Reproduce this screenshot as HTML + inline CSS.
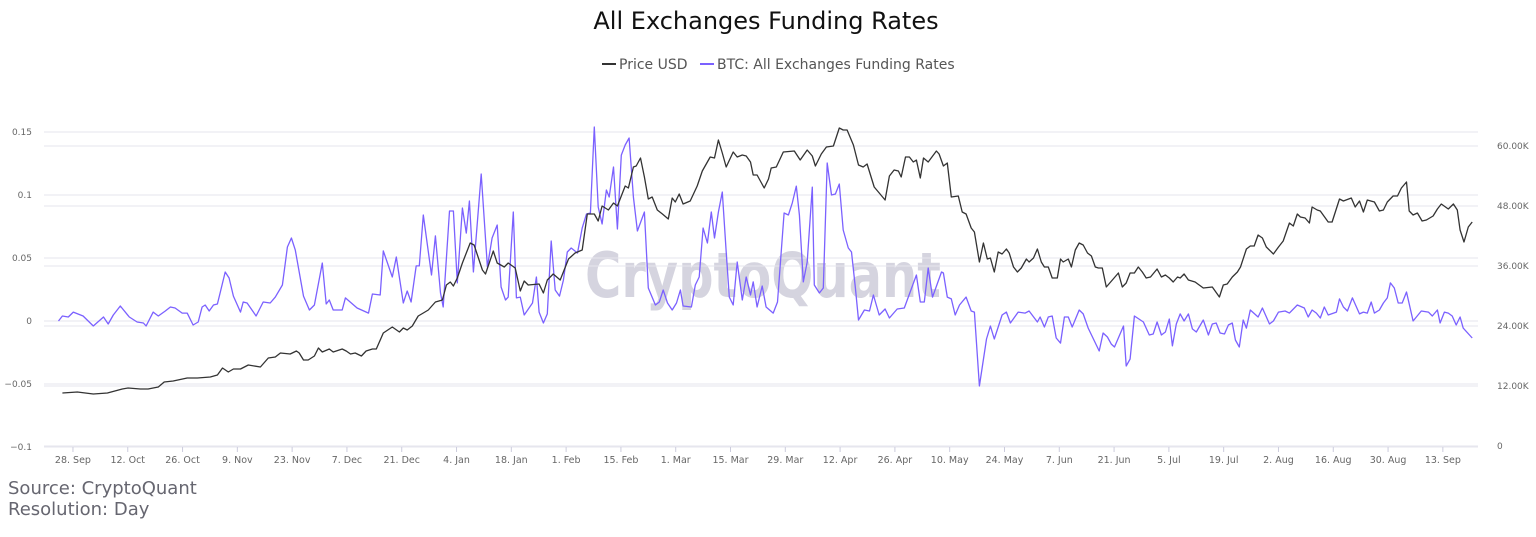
<!DOCTYPE html>
<html><head><meta charset="utf-8">
<style>
html,body{margin:0;padding:0;background:#fff;}
body{width:1536px;height:533px;overflow:hidden;font-family:"DejaVu Sans","Liberation Sans",sans-serif;}
svg text{font-family:"DejaVu Sans","Liberation Sans",sans-serif;}
</style></head>
<body>
<svg id="chart" width="1536" height="533" viewBox="0 0 1536 533" xmlns="http://www.w3.org/2000/svg">
<text x="766" y="29" text-anchor="middle" font-size="24" fill="#111">All Exchanges Funding Rates</text>
<g>
<g>
<line x1="602" y1="64" x2="616" y2="64" stroke="#333" stroke-width="2"/>
<text x="619" y="69" font-size="14" fill="#555">Price USD</text></g>
<g>
<line x1="700" y1="64" x2="714" y2="64" stroke="#7b61ff" stroke-width="2"/>
<text x="717" y="69" font-size="14" fill="#555">BTC: All Exchanges Funding Rates</text></g>
</g>
<text x="585" y="297" font-size="62" font-weight="bold" fill="#d5d4df" textLength="356" lengthAdjust="spacingAndGlyphs">CryptoQuant</text>
<g id="grid"></g>
<g id="axes"></g>
<g id="series"></g>
<text x="8" y="494" font-size="18" fill="#666670">Source: CryptoQuant</text>
<text x="8" y="515" font-size="18" fill="#666670">Resolution: Day</text>
</svg>
<script>
const leftTicks = [0.15, 0.1, 0.05, 0, -0.05, -0.1];
const leftTickLabels = ["0.15", "0.1", "0.05", "0", "\u22120.05", "\u22120.1"];
const rightTicks = [60, 48, 36, 24, 12, 0];
const rightTickLabels = ["60.00K", "48.00K", "36.00K", "24.00K", "12.00K", "0"];
const xTickDays = [4, 18, 32, 46, 60, 74, 88, 102, 116, 130, 144, 158, 172, 186, 200, 214, 228, 242, 256, 270, 284, 298, 312, 326, 340, 354];
const xTickLabels = ["28. Sep","12. Oct","26. Oct","9. Nov","23. Nov","7. Dec","21. Dec","4. Jan","18. Jan","1. Feb","15. Feb","1. Mar","15. Mar","29. Mar","12. Apr","26. Apr","10. May","24. May","7. Jun","21. Jun","5. Jul","19. Jul","2. Aug","16. Aug","30. Aug","13. Sep"];

const fundDays = [0.3,1.3,2.8,4.1,6.6,9.2,11.8,13.0,14.3,16.1,18.4,20.4,22.0,22.7,24.5,25.8,27.6,28.9,30.1,31.9,33.2,34.7,36.0,37.0,37.8,38.8,39.9,40.9,41.6,42.9,43.9,45.0,46.8,47.5,48.5,50.8,52.6,54.4,55.7,57.5,58.8,59.8,60.8,62.9,64.4,65.7,67.7,68.7,69.5,70.5,72.8,73.6,76.6,79.5,80.5,82.5,83.3,85.6,86.6,88.4,89.4,90.4,91.7,92.5,93.5,95.6,96.6,97.9,98.6,100.2,101.2,102.2,103.5,104.5,105.3,106.3,108.3,109.9,111.1,112.4,113.4,114.5,115.2,116.5,117.3,118.3,119.3,121.4,122.4,123.1,124.2,125.2,126.2,127.2,128.3,129.3,130.3,131.3,132.9,134.1,135.2,136.2,137.2,138.2,139.2,140.3,141.0,142.1,143.1,144.1,145.1,146.1,147.2,148.2,150.0,151.0,152.8,153.8,154.8,155.9,157.1,158.2,159.2,159.9,162.0,163.0,164.0,165.0,166.1,167.1,167.9,168.9,169.9,170.9,171.7,172.7,173.7,175.0,176.0,177.1,177.8,178.8,180.1,181.1,182.9,184.0,185.7,186.8,187.8,188.8,189.6,190.6,191.6,192.9,193.4,194.7,195.7,196.7,197.8,198.8,199.8,200.8,202.1,202.9,203.9,204.7,206.2,207.5,208.5,210.0,211.5,212.6,214.6,216.4,219.5,220.5,221.5,222.5,223.6,225.9,226.4,227.4,228.4,229.4,230.5,232.2,233.5,234.3,235.6,237.4,238.4,239.4,241.4,242.5,243.5,245.5,247.3,248.3,250.4,251.1,252.2,253.2,254.2,255.2,256.3,257.3,258.3,259.3,261.1,262.1,263.4,266.2,267.2,268.3,269.3,270.1,272.4,273.1,274.1,275.2,277.5,279.0,280.0,281.0,282.1,283.1,284.1,284.9,285.9,286.9,287.9,289.0,290.0,291.0,292.8,294.1,295.1,296.1,297.1,298.2,299.2,300.2,301.0,302.0,303.0,303.8,304.8,306.8,307.9,309.7,310.7,312.0,313.7,314.8,316.8,318.6,319.6,320.6,321.7,322.7,323.7,324.7,326.8,327.6,328.6,329.6,330.9,332.7,333.7,334.7,335.7,336.5,337.8,338.8,339.8,340.6,341.6,342.6,343.6,344.7,346.4,348.5,350.3,351.3,352.6,353.3,354.4,355.4,356.4,357.4,358.4,359.2,361.5];
const fundValues = [0,0.0040,0.0032,0.0071,0.0040,-0.0040,0.0032,-0.0024,0.0048,0.0119,0.0032,-0.0008,-0.0016,-0.0040,0.0071,0.0040,0.0079,0.0111,0.0103,0.0063,0.0063,-0.0032,-0.0008,0.0111,0.0127,0.0079,0.0127,0.0135,0.0222,0.0389,0.0341,0.0198,0.0071,0.0151,0.0143,0.0040,0.0151,0.0143,0.0190,0.0286,0.0587,0.0659,0.0563,0.0198,0.0087,0.0127,0.0460,0.0135,0.0167,0.0087,0.0087,0.0183,0.0103,0.0063,0.0214,0.0206,0.0556,0.0349,0.0508,0.0143,0.0238,0.0151,0.0437,0.0437,0.0841,0.0365,0.0675,0.0222,0.0111,0.0873,0.0873,0.0302,0.0897,0.0698,0.0952,0.0389,0.1167,0.0429,0.0659,0.0762,0.0270,0.0167,0.0190,0.0865,0.0183,0.0190,0.0048,0.0143,0.0349,0.0071,-0.0016,0.0056,0.0635,0.0246,0.0198,0.0325,0.0548,0.0579,0.0540,0.0738,0.0849,0.0857,0.1540,0.0905,0.0770,0.1040,0.0984,0.1222,0.0730,0.1317,0.1397,0.1452,0.0984,0.0714,0.0865,0.0262,0.0127,0.0151,0.0246,0.0143,0.0087,0.0143,0.0246,0.0119,0.0111,0.0286,0.0349,0.0738,0.0619,0.0865,0.0659,0.0865,0.1024,0.0548,0.0190,0.0127,0.0468,0.0167,0.0349,0.0206,0.0310,0.0111,0.0278,0.0111,0.0063,0.0151,0.0857,0.0841,0.0937,0.1071,0.0841,0.0310,0.0468,0.1063,0.0286,0.0222,0.0262,0.1254,0.1000,0.1008,0.1087,0.0722,0.0579,0.0548,0.0262,0.0008,0.0087,0.0079,0.0206,0.0048,0.0095,0.0024,0.0095,0.0103,0.0365,0.0151,0.0151,0.0421,0.0190,0.0389,0.0381,0.0190,0.0175,0.0048,0.0127,0.0190,0.0079,0.0071,-0.0516,-0.0143,-0.0040,-0.0143,0.0048,0.0071,-0.0016,0.0071,0.0063,0.0079,-0.0008,0.0032,-0.0048,0.0032,0.0040,-0.0135,-0.0175,0.0032,0.0032,-0.0048,0.0087,0.0056,-0.0056,-0.0238,-0.0095,-0.0127,-0.0183,-0.0206,-0.0040,-0.0357,-0.0302,0.0040,-0.0008,-0.0111,-0.0103,-0.0008,-0.0111,-0.0087,0.0016,-0.0198,-0.0024,0.0056,0.0000,0.0056,-0.0063,-0.0087,0.0008,-0.0111,-0.0024,-0.0016,-0.0095,-0.0103,-0.0032,-0.0016,-0.0151,-0.0206,0.0008,-0.0056,0.0087,0.0032,0.0103,-0.0024,0.0000,0.0071,0.0079,0.0063,0.0127,0.0103,0.0032,0.0087,0.0063,0.0024,0.0111,0.0048,0.0071,0.0175,0.0111,0.0079,0.0183,0.0056,0.0071,0.0063,0.0151,0.0063,0.0087,0.0143,0.0183,0.0302,0.0262,0.0143,0.0143,0.0230,0.0000,0.0079,0.0071,0.0040,0.0087,-0.0016,0.0071,0.0063,0.0040,-0.0032,0.0032,-0.0056,-0.0135];

const priceDays = [1.3,5.1,9.2,12.8,16.6,18.1,21.2,23.2,25.8,27.3,29.6,33.2,35.8,39.1,40.9,42.2,43.7,45.0,46.8,48.8,51.9,53.9,55.7,57.0,59.5,61.1,61.8,62.9,64.1,65.7,66.7,67.7,69.5,70.5,72.8,73.8,74.9,76.1,77.7,78.9,80.5,81.5,83.3,85.6,87.4,88.4,89.4,90.7,92.2,93.5,94.8,96.6,98.4,99.4,100.4,101.2,102.2,103.5,105.5,106.5,108.6,109.4,111.4,112.4,114.2,115.2,117.0,118.3,119.3,120.3,123.1,124.2,125.2,126.7,128.5,130.6,132.3,134.1,135.4,137.2,138.2,139.2,140.8,142.1,143.1,145.1,145.9,147.2,147.9,149.0,150.0,151.0,152.0,153.3,154.6,156.1,157.1,157.9,158.9,159.9,161.7,163.5,164.8,166.8,167.9,168.9,169.9,170.9,172.7,173.7,175.0,176.0,177.1,177.8,178.8,180.6,181.7,182.4,183.7,185.5,188.3,189.8,191.6,192.9,193.7,195.2,196.5,198.3,199.8,200.8,201.8,203.4,204.7,205.9,206.9,208.7,211.5,212.6,213.8,214.9,215.6,216.7,217.7,218.7,219.5,220.5,221.3,222.5,224.6,225.3,226.4,227.4,228.4,230.2,231.2,232.2,233.5,234.3,235.6,236.6,237.6,238.4,239.4,240.4,241.4,242.5,243.2,244.3,245.3,246.3,247.6,248.3,249.4,250.4,251.4,252.2,253.2,254.2,255.5,256.3,257.0,258.3,259.1,260.1,261.1,262.1,263.2,264.2,265.2,266.0,267.0,268.0,271.1,272.1,273.1,274.1,275.2,276.2,277.2,278.2,279.3,281.0,282.1,283.1,284.1,285.1,286.2,286.9,287.9,289.0,290.7,292.8,295.1,296.9,297.9,298.9,300.2,301.5,302.3,303.8,304.8,305.8,306.8,307.9,308.9,310.7,312.0,313.2,314.8,315.8,316.8,317.6,318.8,319.9,320.6,321.9,322.7,324.7,325.7,327.6,328.6,330.6,331.6,332.7,333.7,334.7,336.5,337.8,338.8,339.8,341.3,342.4,343.4,344.7,345.4,346.4,347.5,348.7,349.8,351.5,352.6,353.6,355.4,356.7,357.7,358.4,359.4,360.5,361.5];
const priceValuesK = [10.6,10.8,10.4,10.6,11.4,11.6,11.4,11.4,11.8,12.8,13.0,13.6,13.6,13.8,14.2,15.6,14.8,15.4,15.4,16.2,15.8,17.6,17.8,18.6,18.4,19.0,18.6,17.2,17.2,18.0,19.6,18.8,19.4,18.8,19.4,19.0,18.4,18.6,18.0,19.0,19.4,19.4,22.6,23.8,22.8,23.6,23.2,24.0,26.0,26.6,27.2,28.8,29.2,32.2,32.8,32.0,33.6,36.6,40.6,40.2,35.2,34.4,39.0,36.6,35.8,36.6,35.6,31.0,33.0,32.2,32.4,30.6,33.2,34.4,33.2,37.4,38.6,39.2,46.4,46.4,45.0,48.0,47.2,48.6,48.0,52.0,51.6,55.8,56.0,57.6,53.8,49.4,49.8,47.2,46.4,45.4,49.6,48.8,50.4,48.4,49.0,52.0,55.0,57.8,57.6,61.2,58.6,55.8,58.8,57.8,58.2,58.0,56.8,54.2,54.2,51.6,53.4,55.6,55.8,58.8,59.0,57.2,59.2,58.0,56.0,58.4,59.8,60.0,63.6,63.2,63.2,60.2,56.2,55.8,56.4,51.8,49.2,54.0,55.2,55.0,53.8,57.8,57.8,56.8,57.2,53.6,57.6,56.8,59.0,58.4,56.0,56.6,49.8,50.0,46.8,46.4,43.6,42.8,36.8,40.6,37.4,37.6,34.8,38.8,38.4,39.4,38.6,35.8,34.8,35.6,37.4,36.8,37.6,39.4,36.8,35.8,35.8,33.6,33.6,37.4,36.8,37.4,35.8,39.2,40.6,40.2,38.6,38.0,35.8,35.6,35.6,31.8,34.6,31.8,32.6,34.6,34.6,35.8,34.8,33.6,33.8,35.4,33.8,34.2,33.6,32.8,33.8,33.6,34.4,33.2,32.8,31.6,31.8,29.8,32.2,32.4,33.8,34.8,35.8,39.4,40.0,40.0,42.2,41.6,39.8,38.4,39.8,41.0,44.6,44.0,46.4,45.8,45.6,44.6,47.8,47.2,47.0,44.8,44.8,49.4,49.0,49.6,47.8,49.0,46.8,49.2,48.8,47.0,47.2,48.8,50.0,50.0,51.6,52.8,47.0,46.2,46.6,45.0,45.2,46.0,47.4,48.4,47.4,48.4,47.2,43.2,40.8,43.8,44.8];

const NS = "http://www.w3.org/2000/svg";
const X0 = 44, X1 = 1478;
function xScale(d){ return 57.3 + d * 3.914; }
function yLeft(v){ return 321 - v * 1260; }
function yRight(k){ return 446 - k * 5; }
function mk(tag, attrs, parent){ const e = document.createElementNS(NS, tag); for (const k in attrs) e.setAttribute(k, attrs[k]); parent.appendChild(e); return e; }

const grid = document.getElementById('grid');
const axes = document.getElementById('axes');
const series = document.getElementById('series');

leftTicks.forEach((t, i) => {
  const y = yLeft(t);
  const g = mk('line', {x1: X0, x2: X1, y1: y, y2: y, stroke: '#e6e6ee', 'stroke-width': 1}, grid);
  
  
  const tx = mk('text', {x: 32, y: y + 3, 'text-anchor': 'end', 'font-size': 9, fill: '#666'}, axes);
  tx.textContent = leftTickLabels[i];
  
  
});
rightTicks.forEach((t, i) => {
  const y = yRight(t);
  const g = mk('line', {x1: X0, x2: X1, y1: y, y2: y, stroke: '#e6e6ee', 'stroke-width': 1}, grid);
  
  
  const tx = mk('text', {x: 1497, y: y + 3, 'font-size': 9, fill: '#666'}, axes);
  tx.textContent = rightTickLabels[i];
  
  
});
xTickDays.forEach((d, i) => {
  const x = xScale(d);
  const tk = mk('line', {x1: x, x2: x, y1: 447, y2: 452, stroke: '#ccd', 'stroke-width': 1}, axes);
  
  
  const tx = mk('text', {x: x, y: 463, 'text-anchor': 'middle', 'font-size': 9.5, fill: '#666'}, axes);
  tx.textContent = xTickLabels[i];
  
  
});

let pf = fundDays.map((d, i) => (i ? 'L' : 'M') + xScale(d).toFixed(1) + ',' + yLeft(fundValues[i]).toFixed(1)).join('');
const fl = mk('path', {d: pf, fill: 'none', stroke: '#7b61ff', 'stroke-width': 1.3, 'stroke-linejoin': 'round'}, series);



let pp = priceDays.map((d, i) => (i ? 'L' : 'M') + xScale(d).toFixed(1) + ',' + yRight(priceValuesK[i]).toFixed(1)).join('');
const pl = mk('path', {d: pp, fill: 'none', stroke: '#333', 'stroke-width': 1.3, 'stroke-linejoin': 'round'}, series);


</script>
</body></html>
